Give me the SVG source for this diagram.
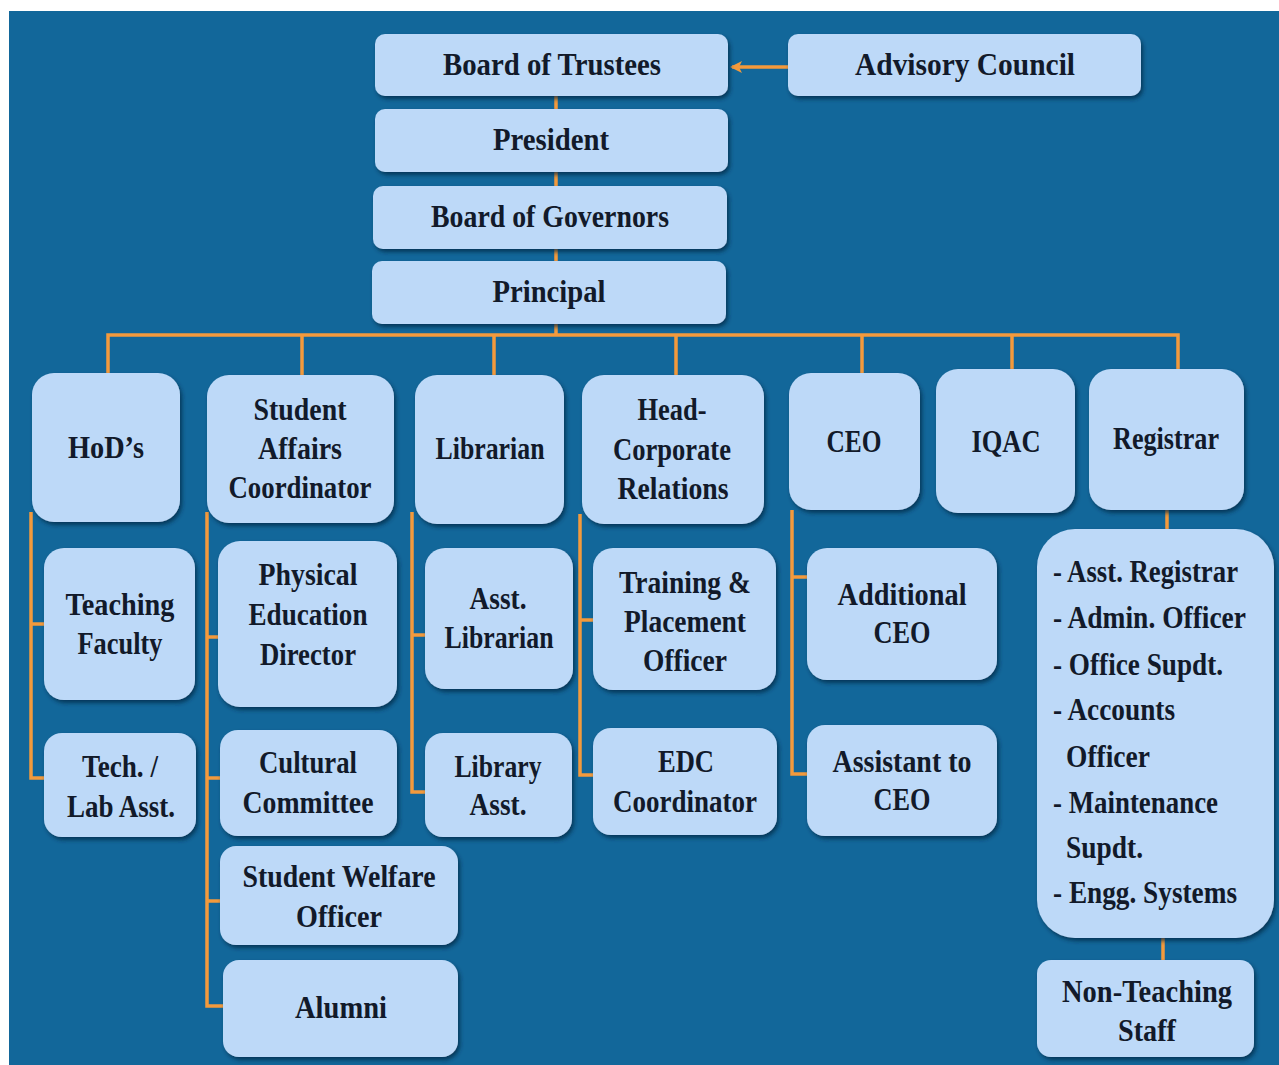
<svg xmlns="http://www.w3.org/2000/svg" width="1279" height="1065" viewBox="0 0 1279 1065">
<defs>
<style>
.b{fill:#bdd9f8;filter:url(#sh)}
.t{font-family:"Liberation Serif",serif;font-weight:bold;font-size:32px;fill:#121a2a;text-anchor:middle}
.l{font-family:"Liberation Serif",serif;font-weight:bold;font-size:32px;fill:#121a2a;text-anchor:start}
.c{fill:none;stroke:#f39a3c;stroke-width:3.5}
</style>
<filter id="sh" x="-10%" y="-10%" width="125%" height="130%">
<feDropShadow dx="2" dy="3" stdDeviation="2" flood-color="#062a45" flood-opacity="0.75"/>
</filter>
<marker id="ah" markerWidth="14" markerHeight="14" refX="10" refY="7" orient="auto" markerUnits="userSpaceOnUse">
<path d="M0,1 L12,7 L0,13 L3,7 Z" fill="#f39a3c"/>
</marker>
</defs>
<rect x="0" y="0" width="1279" height="1065" fill="#ffffff"/>
<rect x="9" y="11" width="1270" height="1054" fill="#12679a"/>

<g id="connectors">
<line class="c" x1="788" y1="67" x2="732" y2="67" marker-end="url(#ah)"/>
<line class="c" x1="556" y1="96" x2="556" y2="109"/>
<line class="c" x1="556" y1="172" x2="556" y2="186"/>
<line class="c" x1="556" y1="249" x2="556" y2="261"/>
<line class="c" x1="556" y1="324" x2="556" y2="335"/>
<polyline class="c" points="108,373 108,335 1178,335 1178,369"/>
<line class="c" x1="302" y1="335" x2="302" y2="375"/>
<line class="c" x1="494" y1="335" x2="494" y2="375"/>
<line class="c" x1="676" y1="335" x2="676" y2="375"/>
<line class="c" x1="862" y1="335" x2="862" y2="373"/>
<line class="c" x1="1012" y1="335" x2="1012" y2="369"/>
<polyline class="c" points="31,512 31,778 44,778"/>
<line class="c" x1="31" y1="624" x2="44" y2="624"/>
<polyline class="c" points="207,512 207,1006 223,1006"/>
<line class="c" x1="207" y1="637" x2="218" y2="637"/>
<line class="c" x1="207" y1="778" x2="220" y2="778"/>
<line class="c" x1="207" y1="901" x2="220" y2="901"/>
<polyline class="c" points="412,512 412,792 425,792"/>
<line class="c" x1="412" y1="635" x2="425" y2="635"/>
<polyline class="c" points="580,514 580,775 593,775"/>
<line class="c" x1="580" y1="620" x2="593" y2="620"/>
<polyline class="c" points="792,510 792,774 807,774"/>
<line class="c" x1="792" y1="577" x2="807" y2="577"/>
<line class="c" x1="1167" y1="510" x2="1167" y2="530"/>
<line class="c" x1="1163" y1="938" x2="1163" y2="960"/>
</g>

<g id="trustees"><rect class="b" x="375" y="34" width="353" height="62" rx="10"/><text class="t" x="552" y="75" textLength="218" lengthAdjust="spacingAndGlyphs">Board of Trustees</text></g>
<g id="advisory"><rect class="b" x="788" y="34" width="353" height="62" rx="10"/><text class="t" x="965" y="75" textLength="220" lengthAdjust="spacingAndGlyphs">Advisory Council</text></g>
<g id="president"><rect class="b" x="375" y="109" width="353" height="63" rx="10"/><text class="t" x="551" y="150" textLength="116" lengthAdjust="spacingAndGlyphs">President</text></g>
<g id="governors"><rect class="b" x="373" y="186" width="354" height="63" rx="10"/><text class="t" x="550" y="227" textLength="238" lengthAdjust="spacingAndGlyphs">Board of Governors</text></g>
<g id="principal"><rect class="b" x="372" y="261" width="354" height="63" rx="10"/><text class="t" x="549" y="302" textLength="113" lengthAdjust="spacingAndGlyphs">Principal</text></g>

<g id="hods"><rect class="b" x="32" y="373" width="148" height="149" rx="22"/><text class="t" x="106" y="458" textLength="76" lengthAdjust="spacingAndGlyphs">HoD’s</text></g>
<g id="student-affairs"><rect class="b" x="207" y="375" width="187" height="148" rx="22"/>
<text class="t" x="300" y="420" textLength="93" lengthAdjust="spacingAndGlyphs">Student</text>
<text class="t" x="300" y="459" textLength="84" lengthAdjust="spacingAndGlyphs">Affairs</text>
<text class="t" x="300" y="498" textLength="143" lengthAdjust="spacingAndGlyphs">Coordinator</text></g>
<g id="librarian"><rect class="b" x="415" y="375" width="149" height="149" rx="22"/><text class="t" x="490" y="459" textLength="109" lengthAdjust="spacingAndGlyphs">Librarian</text></g>
<g id="head-corporate"><rect class="b" x="582" y="375" width="182" height="149" rx="22"/>
<text class="t" x="672" y="420" textLength="69" lengthAdjust="spacingAndGlyphs">Head-</text>
<text class="t" x="672" y="460" textLength="118" lengthAdjust="spacingAndGlyphs">Corporate</text>
<text class="t" x="673" y="499" textLength="111" lengthAdjust="spacingAndGlyphs">Relations</text></g>
<g id="ceo"><rect class="b" x="789" y="373" width="131" height="137" rx="22"/><text class="t" x="854" y="452" textLength="55" lengthAdjust="spacingAndGlyphs">CEO</text></g>
<g id="iqac"><rect class="b" x="936" y="369" width="139" height="144" rx="22"/><text class="t" x="1006" y="452" textLength="69" lengthAdjust="spacingAndGlyphs">IQAC</text></g>
<g id="registrar"><rect class="b" x="1089" y="369" width="155" height="141" rx="22"/><text class="t" x="1166" y="449" textLength="106" lengthAdjust="spacingAndGlyphs">Registrar</text></g>

<g id="teaching-faculty"><rect class="b" x="44" y="548" width="151" height="152" rx="20"/>
<text class="t" x="120" y="615" textLength="109" lengthAdjust="spacingAndGlyphs">Teaching</text>
<text class="t" x="120" y="654" textLength="85" lengthAdjust="spacingAndGlyphs">Faculty</text></g>
<g id="tech-lab"><rect class="b" x="44" y="733" width="152" height="104" rx="18"/>
<text class="t" x="120" y="777" textLength="76" lengthAdjust="spacingAndGlyphs">Tech. /</text>
<text class="t" x="121" y="817" textLength="108" lengthAdjust="spacingAndGlyphs">Lab Asst.</text></g>
<g id="physical-education"><rect class="b" x="218" y="541" width="179" height="166" rx="22"/>
<text class="t" x="308" y="585" textLength="99" lengthAdjust="spacingAndGlyphs">Physical</text>
<text class="t" x="308" y="625" textLength="119" lengthAdjust="spacingAndGlyphs">Education</text>
<text class="t" x="308" y="665" textLength="96" lengthAdjust="spacingAndGlyphs">Director</text></g>
<g id="cultural"><rect class="b" x="220" y="730" width="177" height="106" rx="18"/>
<text class="t" x="308" y="773" textLength="98" lengthAdjust="spacingAndGlyphs">Cultural</text>
<text class="t" x="308" y="813" textLength="131" lengthAdjust="spacingAndGlyphs">Committee</text></g>
<g id="welfare"><rect class="b" x="220" y="846" width="238" height="99" rx="16"/>
<text class="t" x="339" y="887" textLength="193" lengthAdjust="spacingAndGlyphs">Student Welfare</text>
<text class="t" x="339" y="927" textLength="86" lengthAdjust="spacingAndGlyphs">Officer</text></g>
<g id="alumni"><rect class="b" x="223" y="960" width="235" height="97" rx="16"/>
<text class="t" x="341" y="1018" textLength="92" lengthAdjust="spacingAndGlyphs">Alumni</text></g>
<g id="asst-librarian"><rect class="b" x="425" y="548" width="148" height="141" rx="20"/>
<text class="t" x="498" y="609" textLength="57" lengthAdjust="spacingAndGlyphs">Asst.</text>
<text class="t" x="499" y="648" textLength="109" lengthAdjust="spacingAndGlyphs">Librarian</text></g>
<g id="library-asst"><rect class="b" x="425" y="733" width="147" height="104" rx="18"/>
<text class="t" x="498" y="777" textLength="87" lengthAdjust="spacingAndGlyphs">Library</text>
<text class="t" x="498" y="815" textLength="57" lengthAdjust="spacingAndGlyphs">Asst.</text></g>
<g id="training"><rect class="b" x="593" y="548" width="183" height="142" rx="20"/>
<text class="t" x="685" y="593" textLength="132" lengthAdjust="spacingAndGlyphs">Training &amp;</text>
<text class="t" x="685" y="632" textLength="122" lengthAdjust="spacingAndGlyphs">Placement</text>
<text class="t" x="685" y="671" textLength="84" lengthAdjust="spacingAndGlyphs">Officer</text></g>
<g id="edc"><rect class="b" x="593" y="728" width="184" height="107" rx="18"/>
<text class="t" x="686" y="772" textLength="56" lengthAdjust="spacingAndGlyphs">EDC</text>
<text class="t" x="685" y="812" textLength="144" lengthAdjust="spacingAndGlyphs">Coordinator</text></g>
<g id="additional-ceo"><rect class="b" x="807" y="548" width="190" height="132" rx="20"/>
<text class="t" x="902" y="605" textLength="129" lengthAdjust="spacingAndGlyphs">Additional</text>
<text class="t" x="902" y="643" textLength="57" lengthAdjust="spacingAndGlyphs">CEO</text></g>
<g id="assistant-ceo"><rect class="b" x="807" y="725" width="190" height="111" rx="18"/>
<text class="t" x="902" y="772" textLength="139" lengthAdjust="spacingAndGlyphs">Assistant to</text>
<text class="t" x="902" y="810" textLength="57" lengthAdjust="spacingAndGlyphs">CEO</text></g>

<g id="registrar-staff"><rect class="b" x="1037" y="529" width="237" height="409" rx="38"/>
<text class="l" x="1053" y="582" textLength="185" lengthAdjust="spacingAndGlyphs">- Asst. Registrar</text>
<text class="l" x="1053" y="628" textLength="193" lengthAdjust="spacingAndGlyphs">- Admin. Officer</text>
<text class="l" x="1053" y="675" textLength="170" lengthAdjust="spacingAndGlyphs">- Office Supdt.</text>
<text class="l" x="1053" y="720" textLength="122" lengthAdjust="spacingAndGlyphs">- Accounts</text>
<text class="l" x="1066" y="767" textLength="84" lengthAdjust="spacingAndGlyphs">Officer</text>
<text class="l" x="1053" y="813" textLength="165" lengthAdjust="spacingAndGlyphs">- Maintenance</text>
<text class="l" x="1066" y="858" textLength="77" lengthAdjust="spacingAndGlyphs">Supdt.</text>
<text class="l" x="1053" y="903" textLength="184" lengthAdjust="spacingAndGlyphs">- Engg. Systems</text></g>
<g id="non-teaching"><rect class="b" x="1037" y="960" width="217" height="97" rx="14"/>
<text class="t" x="1147" y="1002" textLength="170" lengthAdjust="spacingAndGlyphs">Non-Teaching</text>
<text class="t" x="1147" y="1041" textLength="58" lengthAdjust="spacingAndGlyphs">Staff</text></g>
</svg>
